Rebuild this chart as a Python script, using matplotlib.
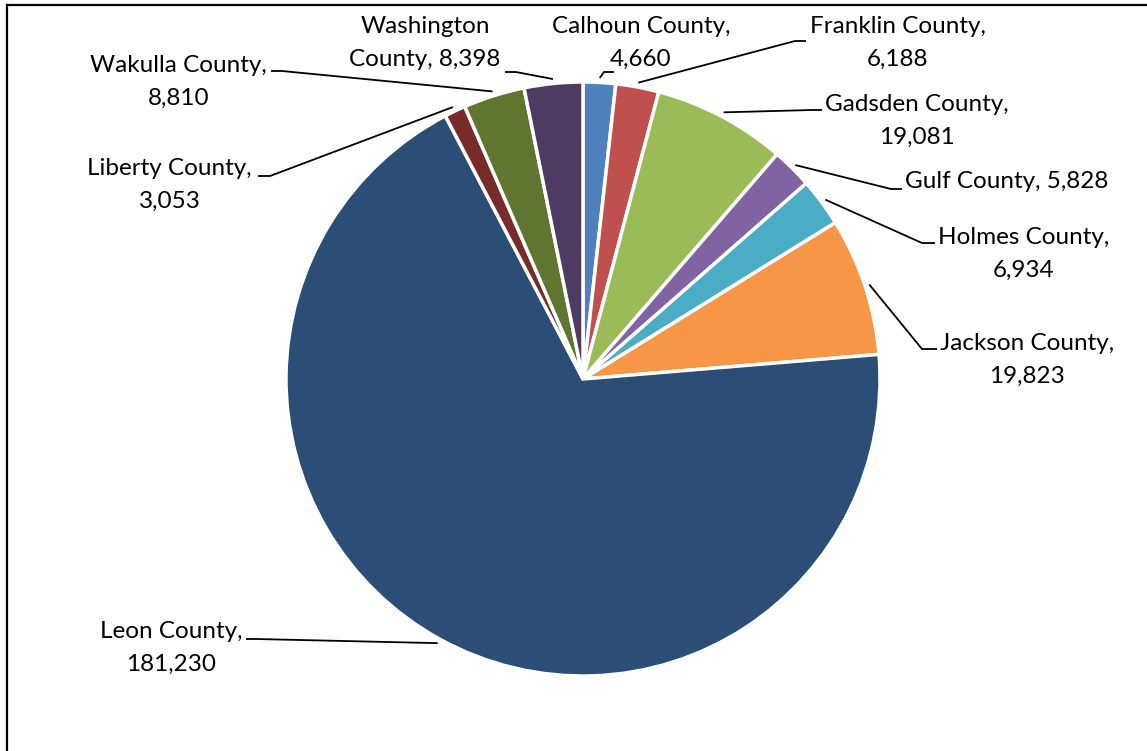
import matplotlib
matplotlib.use('Agg')
import matplotlib.pyplot as plt
import numpy as np

# ---- data ----
counties = ['Calhoun County', 'Franklin County', 'Gadsden County', 'Gulf County',
            'Holmes County', 'Jackson County', 'Leon County', 'Liberty County',
            'Wakulla County', 'Washington County']
population = [4660, 6188, 19081, 5828, 6934, 19823, 181230, 3053, 8810, 8398]
colors = ['#4F81BD', '#C0504D', '#9BBB59', '#8064A2', '#4BACC6',
          '#F79646', '#2C4D75', '#772C2A', '#5F7530', '#4D3B62']
# how each label is wrapped: 'comma' -> break after comma, 'none' -> one line, 'word' -> break after first word
wraps = ['comma', 'comma', 'comma', 'none', 'comma', 'comma', 'comma', 'comma', 'comma', 'word']

# ---- layout (pixels, origin top-left) ----
W, H = 1147, 751
CX, CY, R = 583, 379, 297
text_pos = [(641, 43, 'center'), (810, 43, 'left'), (825, 121, 'left'), (905, 181, 'left'),
            (938, 254, 'left'), (940, 360, 'left'), (242, 648, 'right'), (252, 185, 'right'),
            (267, 82, 'right'), (425, 43, 'center')]
elbows = [(604, 72), (795, 41), (812, 110), (891, 189), (922, 243), (922, 349),
          (256, 639), (270, 176), (282, 71), (516, 72)]
stub_ends = [(614, 72), (806, 41), (822, 110), (902, 189), (935, 243), (937, 349),
             (246, 639), (258, 176), (271, 71), (505, 72)]

plt.rcParams['font.family'] = ['Lato', 'DejaVu Sans']

fig = plt.figure(figsize=(W / 100, H / 100), dpi=100)
ax = fig.add_axes([0, 0, 1, 1])

def Y(y):
    return H - y

ax.pie(population, colors=colors, startangle=90, counterclock=False,
       center=(CX, Y(CY)), radius=R,
       wedgeprops=dict(edgecolor='white', linewidth=2.5))
ax.set_aspect('auto')
ax.set_xlim(0, W)
ax.set_ylim(0, H)
ax.axis('off')

total = float(sum(population))
cum = np.concatenate([[0], np.cumsum(population)[:-1]])
for i, (name, val) in enumerate(zip(counties, population)):
    frac = (cum[i] + val / 2) / total
    ang = np.deg2rad(90 - 360 * frac)
    px = CX + R * 1.015 * np.cos(ang)
    py = CY - R * 1.015 * np.sin(ang)
    ex, ey = elbows[i]
    sx, sy = stub_ends[i]
    ax.plot([px, ex, sx], [Y(py), Y(ey), Y(sy)], color='black', lw=1.3,
            solid_capstyle='butt', solid_joinstyle='miter')
    if wraps[i] == 'comma':
        txt = f'{name},\n{val:,}'
    elif wraps[i] == 'word':
        first, rest = name.split(' ', 1)
        txt = f'{first}\n{rest}, {val:,}'
    else:
        txt = f'{name}, {val:,}'
    tx, ty, ha = text_pos[i]
    ax.text(tx, Y(ty), txt, ha=ha, va='center', multialignment='center',
            fontsize=17.5, color='#000000', linespacing=1.65)

# partial frame (left and top edges)
fig.add_artist(plt.Line2D([7 / W, 7 / W], [0, 1 - 5 / H], transform=fig.transFigure,
                          color='black', lw=1.6))
fig.add_artist(plt.Line2D([7 / W, 1], [1 - 5 / H, 1 - 5 / H], transform=fig.transFigure,
                          color='black', lw=1.6))

fig.savefig('out.png', dpi=100, facecolor='white')
